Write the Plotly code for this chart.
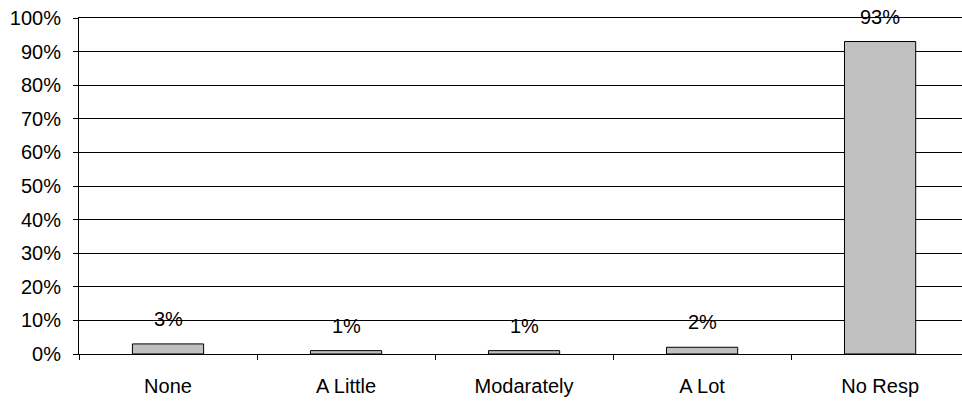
import plotly.graph_objects as go

categories = ["None", "A Little", "Modarately", "A Lot", "No Resp"]
values = [3, 1, 1, 2, 93]
labels = ["3%", "1%", "1%", "2%", "93%"]
y_ticks = [0, 10, 20, 30, 40, 50, 60, 70, 80, 90, 100]
y_tick_text = [f"{v}%" for v in y_ticks]

FONT = "Liberation Sans, Arial, sans-serif"
FS = 20

fig = go.Figure()
fig.add_trace(go.Bar(
    x=categories, y=values, width=0.4,
    marker=dict(color="#c0c0c0", line=dict(color="black", width=1)),
    hoverinfo="skip",
))
for c, v, t in zip(categories, values, labels):
    fig.add_annotation(x=c, y=v, text=t, showarrow=False, yanchor="bottom",
                       yshift=12, font=dict(family=FONT, size=FS, color="black"))

fig.update_layout(
    width=962, height=401,
    margin=dict(l=79, r=0, t=18, b=47, autoexpand=False),
    paper_bgcolor="white", plot_bgcolor="white",
    showlegend=False,
    font=dict(family=FONT, size=FS, color="black"),
    bargap=0.6,
)
fig.update_xaxes(
    range=[-0.5, 4.46], showgrid=False, showline=True, linecolor="black", linewidth=1,
    mirror=True,
    ticks="outside", tickson="boundaries", ticklen=5, tickcolor="black",
    ticklabelstandoff=14, tickfont=dict(size=FS), automargin=False,
)
fig.update_yaxes(
    range=[0, 100], tickvals=y_ticks, ticktext=y_tick_text,
    showgrid=True, gridcolor="black", gridwidth=1,
    showline=True, linecolor="black", linewidth=1,
    ticks="outside", ticklen=5, tickcolor="black", ticklabelstandoff=8,
    zeroline=False, tickfont=dict(size=FS), automargin=False,
)
fig.write_html("out.html", config={"displayModeBar": False},
               post_script="document.body.style.margin='0';")
